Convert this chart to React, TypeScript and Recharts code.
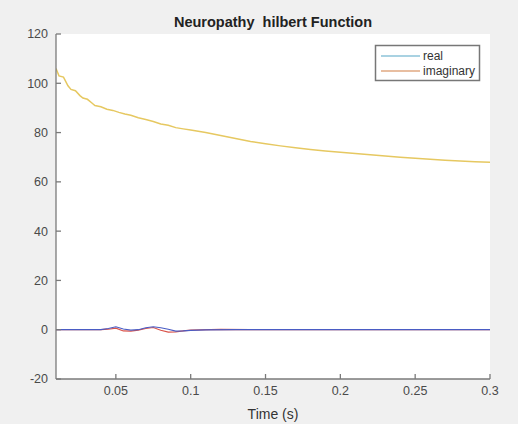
import React from 'react';
import { LineChart, Line, XAxis, YAxis, CartesianGrid } from 'recharts';

const imagTime = [0.010,0.012,0.015,0.018,0.020,0.023,0.026,0.028,0.031,0.034,0.036,0.040,0.044,0.048,0.052,0.056,0.060,0.065,0.070,0.075,0.080,0.085,0.090,0.095,0.100,0.110,0.120,0.130,0.140,0.150,0.160,0.170,0.180,0.190,0.200,0.210,0.220,0.230,0.240,0.250,0.260,0.270,0.280,0.290,0.300];
const imagValues = [106,103,102.5,99,97.5,97,95,94,93.5,92,91,90.5,89.5,89,88.2,87.5,87,86,85.3,84.5,83.5,83,82,81.5,81,80,78.8,77.6,76.4,75.5,74.6,73.8,73.1,72.5,72.0,71.5,71.0,70.5,70.0,69.6,69.2,68.8,68.5,68.2,68.0];

const realTime = [0.01,0.04,0.045,0.05,0.055,0.06,0.065,0.07,0.075,0.08,0.085,0.09,0.095,0.1,0.11,0.13,0.3];
const realValues = [0,0,0.5,1.2,0.3,-0.2,0,0.8,1.2,0.8,0.2,-0.6,-0.5,-0.3,-0.1,0,0];

const redTime = [0.01,0.04,0.045,0.05,0.055,0.06,0.065,0.07,0.075,0.08,0.085,0.09,0.095,0.1,0.12,0.14,0.3];
const redValues = [0,0,0.2,0.6,-0.5,-0.6,-0.2,0.5,0.9,-0.2,-1.0,-0.9,-0.5,-0.2,0.1,0,0];

const xTicks = [0.05,0.1,0.15,0.2,0.25,0.3];
const yTicks = [-20,0,20,40,60,80,100,120];
const legendLabels = ['real','imaginary'];
const title = 'Neuropathy  hilbert Function';
const xLabel = 'Time (s)';

const imagData = imagTime.map((t, i) => ({ t, v: imagValues[i] }));
const realData = realTime.map((t, i) => ({ t, v: realValues[i] }));
const redData = redTime.map((t, i) => ({ t, v: redValues[i] }));

const FONT = 'Liberation Sans, Arial, sans-serif';
const AX = '#7a7a7a';
const TXT = '#4a4a4a';
const blank = () => '';

export default function App() {
  return (
    <div style={{ position: 'absolute', left: 0, top: 0, width: 518, height: 424, background: '#f0f0f0', fontFamily: FONT }}>
      <LineChart width={518} height={424} margin={{ top: 34, right: 28, bottom: 15, left: 0 }}>
        <CartesianGrid fill="#ffffff" stroke="none" horizontal={false} vertical={false} xAxisId="b" yAxisId="l" />
        <XAxis xAxisId="b" type="number" dataKey="t" domain={[0.01, 0.3]} ticks={xTicks} allowDataOverflow
          height={30} tickSize={-5} tickMargin={12} stroke={AX} strokeWidth={1.3} tickLine={{ stroke: AX }}
          tick={{ fill: TXT, fontSize: 12.5, fontFamily: FONT }}
          tickFormatter={(v: number) => String(+v.toFixed(2))}
          label={{ value: xLabel, position: 'insideBottom', offset: -10, fill: '#333', fontSize: 14, fontFamily: FONT }} />
        <XAxis xAxisId="t" orientation="top" type="number" dataKey="t" domain={[0.01, 0.3]} ticks={xTicks} allowDataOverflow
          height={0} tickSize={-5} stroke={AX} strokeWidth={1.3} tickLine={{ stroke: AX }} tickFormatter={blank} />
        <YAxis yAxisId="l" type="number" domain={[-20, 120]} ticks={yTicks} allowDataOverflow
          width={56} tickSize={-5} tickMargin={13} stroke={AX} strokeWidth={1.3} tickLine={{ stroke: AX }}
          tick={{ fill: TXT, fontSize: 12.5, fontFamily: FONT }} />
        <YAxis yAxisId="r" orientation="right" type="number" domain={[-20, 120]} ticks={yTicks} allowDataOverflow
          width={0} tickSize={-5} stroke={AX} strokeWidth={1.3} tickLine={{ stroke: AX }} tickFormatter={blank} />
        <Line xAxisId="b" yAxisId="l" data={redData} dataKey="v" stroke="#d9534a" strokeWidth={1.2} dot={false} isAnimationActive={false} />
        <Line xAxisId="b" yAxisId="l" data={realData} dataKey="v" stroke="#4a5cc4" strokeWidth={1.2} dot={false} isAnimationActive={false} />
        <Line xAxisId="b" yAxisId="l" data={imagData} dataKey="v" stroke="#e6c861" strokeWidth={1.5} dot={false} isAnimationActive={false} />
      </LineChart>
      <svg width={518} height={424} style={{ position: 'absolute', left: 0, top: 0, pointerEvents: 'none' }}>
        <text x={273} y={27} textAnchor="middle" fontSize={14.5} fontWeight="bold" fill="#222" fontFamily={FONT} style={{ whiteSpace: 'pre' }}>{title}</text>
        <rect x={375.5} y={45.5} width={104} height={35} fill="#ffffff" stroke="#777" strokeWidth={1.5} />
        <line x1={381} y1={56} x2={420} y2={56} stroke="#8cc3d8" strokeWidth={1.5} />
        <line x1={381} y1={71} x2={420} y2={71} stroke="#e0a882" strokeWidth={1.5} />
        <text x={423} y={60} fontSize={12} fill="#333" fontFamily={FONT}>{legendLabels[0]}</text>
        <text x={423} y={75} fontSize={12} fill="#333" fontFamily={FONT}>{legendLabels[1]}</text>
      </svg>
    </div>
  );
}
